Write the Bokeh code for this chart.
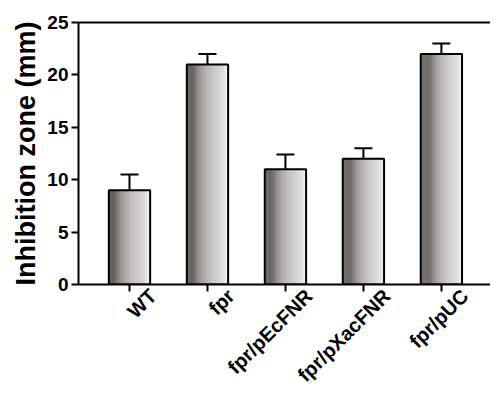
import numpy as np
from bokeh.plotting import figure
from bokeh.models import (Range1d, FixedTicker, LinearAxis, Whisker, TeeHead,
                          ColumnDataSource)
from bokeh.embed import file_html
from bokeh.resources import INLINE

# ---- data ----
categories = ["WT", "fpr", "fpr/pEcFNR", "fpr/pXacFNR", "fpr/pUC"]
values = [9.0, 21.0, 11.0, 12.0, 22.0]
errors = [1.5, 1.0, 1.4, 1.0, 1.0]
y_ticks = [0, 5, 10, 15, 20, 25]

FONT = "Liberation Sans"
bar_w = 0.53
label_shift = 0.30
xc = np.arange(len(categories)) + 0.5

p = figure(width=490, height=402, output_backend="svg", toolbar_location=None,
           x_range=Range1d(-0.154, 5.13), y_range=Range1d(0, 25),
           min_border_left=78, min_border_right=0, min_border_top=22,
           min_border_bottom=118)
p.background_fill_color = "white"
p.border_fill_color = "white"
p.outline_line_color = None
p.xgrid.grid_line_color = None
p.ygrid.grid_line_color = None

# gradient bars built from strips
N = 40
c0 = np.array([84, 80, 74])
c1 = np.array([242, 242, 242])
lefts, rights, tops, cols = [], [], [], []
for x, v in zip(xc, values):
    l0 = x - bar_w / 2
    for k in range(N):
        t = k / (N - 1)
        c = (c0 + (c1 - c0) * t).astype(int)
        lefts.append(l0 + k * bar_w / N)
        rights.append(l0 + (k + 1) * bar_w / N + 1e-4)
        tops.append(v)
        cols.append("#%02x%02x%02x" % tuple(c))
p.quad(left=lefts, right=rights, bottom=0, top=tops, fill_color=cols,
       line_color=None)
p.quad(left=xc - bar_w / 2, right=xc + bar_w / 2, bottom=0, top=values,
       fill_color=None, line_color="black", line_width=2)

src = ColumnDataSource(dict(x=xc, lo=values,
                            up=[v + e for v, e in zip(values, errors)]))
p.add_layout(Whisker(base="x", lower="lo", upper="up", source=src,
                     line_width=2, line_color="black", lower_head=None,
                     upper_head=TeeHead(size=18, line_width=2, line_color="black")))

# axes
for ax in (p.xaxis[0], p.yaxis[0]):
    ax.axis_line_width = 2
    ax.axis_line_color = "black"
    ax.major_tick_line_width = 2
    ax.major_tick_line_color = "black"
    ax.major_tick_out = 7
    ax.major_tick_in = 0
    ax.minor_tick_line_color = None
    ax.major_label_text_font = FONT
    ax.major_label_text_font_style = "bold"
    ax.major_label_text_color = "black"

p.yaxis.ticker = FixedTicker(ticks=y_ticks)
p.yaxis.major_label_text_font_size = "19px"
p.yaxis.major_label_standoff = 3
p.yaxis.axis_label = "Inhibition zone (mm)"
p.yaxis.axis_label_text_font = FONT
p.yaxis.axis_label_text_font_style = "bold"
p.yaxis.axis_label_text_font_size = "27px"
p.yaxis.axis_label_text_color = "black"
p.yaxis.axis_label_standoff = 3

p.xaxis.ticker = FixedTicker(ticks=[float(x) for x in xc])
p.xaxis.major_label_overrides = {float(x): " " for x in xc}
p.xaxis.major_label_text_font_size = "1px"
p.xaxis.major_label_text_alpha = 0
p.xaxis.major_label_standoff = 0

# category labels on a second, line-less axis slightly shifted to the right
lab_pos = [float(x + label_shift) for x in xc]
lab_ax = LinearAxis(ticker=FixedTicker(ticks=lab_pos),
                    major_label_overrides={x: c for x, c in zip(lab_pos, categories)},
                    axis_line_color=None, major_tick_line_color=None,
                    major_tick_out=0, major_tick_in=0,
                    minor_tick_line_color=None,
                    major_label_orientation=np.pi / 4,
                    major_label_standoff=1,
                    major_label_text_font=FONT,
                    major_label_text_font_style="bold",
                    major_label_text_font_size="20px",
                    major_label_text_color="black")
p.add_layout(lab_ax, "below")

top_ax = LinearAxis(axis_line_width=2, axis_line_color="black",
                    major_tick_line_color=None,
                    minor_tick_line_color=None, major_label_text_font_size="0px",
                    ticker=FixedTicker(ticks=[]))
p.add_layout(top_ax, "above")

open("out.html", "w").write(file_html(p, INLINE))
